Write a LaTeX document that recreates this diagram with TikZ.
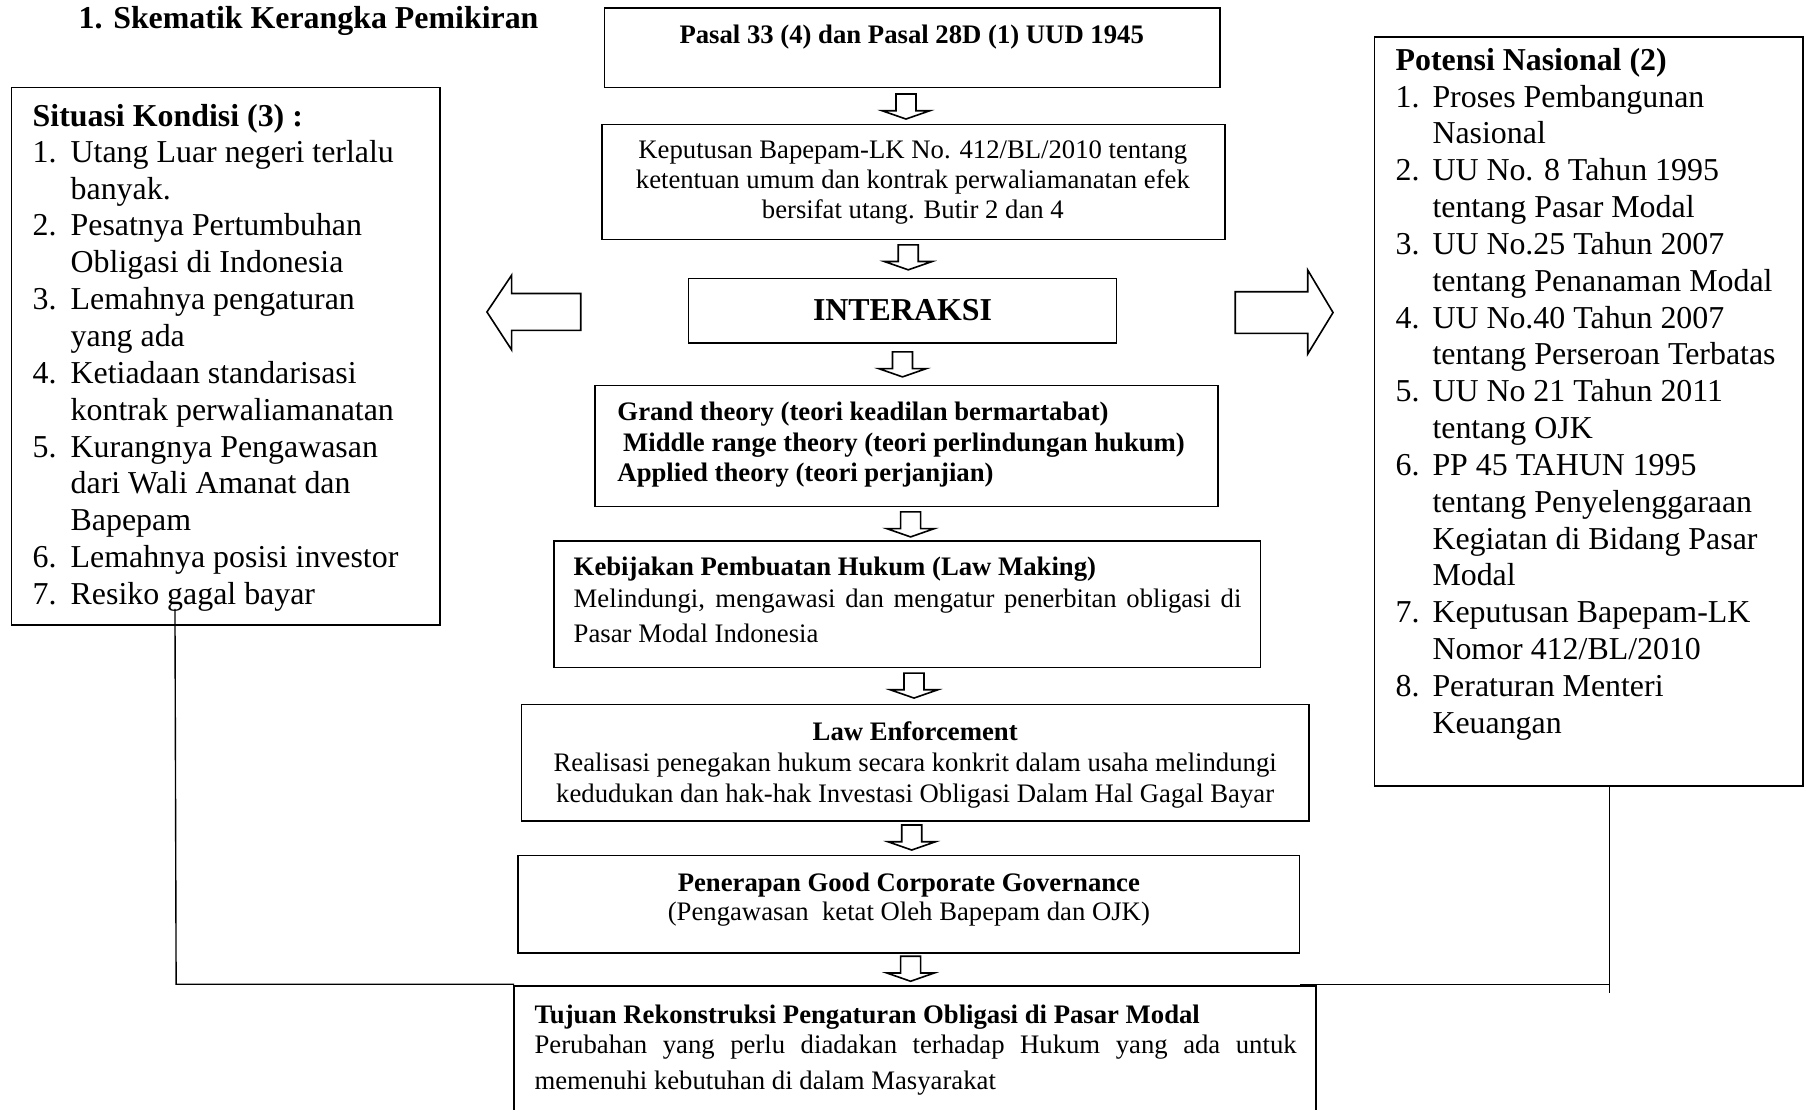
\documentclass[tikz,border=0pt]{standalone}
\usepackage{fontspec}
\setmainfont{Liberation Serif}
\usetikzlibrary{fit,calc}
\begin{document}
\begin{tikzpicture}[x=0.5pt,y=-0.5pt,
  box/.style={draw, line width=0.7pt, inner sep=0pt},
  big/.style={font=\fontsize{13.85}{16}\selectfont, inner sep=0pt},
  bigb/.style={font=\fontsize{13.85}{16}\selectfont\bfseries, inner sep=0pt},
  sm/.style={font=\fontsize{11.6}{13}\selectfont, inner sep=0pt},
  smb/.style={font=\fontsize{11.6}{13}\selectfont\bfseries, inner sep=0pt},
  hollow/.style={draw, line width=0.7pt, fill=white, line join=miter},
  link/.style={draw, line width=0.6pt},
  downarr/.pic={\draw[hollow] (-8.7,0) -- (8.7,0) -- (8.7,14.5) -- (20.7,14.5) -- (0,21.7) -- (-20.7,14.5) -- (-8.7,14.5) -- cycle;}]
\useasboundingbox (0,0) rectangle (1568,964);

% title
\node[bigb, anchor=base west] (tnum) at (68,25) {1.};
\node[bigb, anchor=base west] (ttl) at (98,25) {Skematik Kerangka Pemikiran};

% central boxes
\node[box, fit={(525,7) (1060,76)}] (b1) {};
\node[box, fit={(523,108) (1064,208)}] (b2) {};
\node[box, fit={(598,242) (970,298)}] (b3) {};
\node[box, fit={(517,335) (1058,440)}] (b4) {};
\node[box, fit={(481,470) (1095,580)}] (b5) {};
\node[box, fit={(453,612) (1137,713)}] (b6) {};
\node[box, fit={(450,743) (1129,828)}] (b7) {};
\node[inner sep=0pt, fit={(447,857) (1143,964)}] (b8) {};
\draw[line width=0.7pt] (b8.south west) -- (b8.north west) -- (b8.north east) -- (b8.south east);

% side boxes
\node[box, fit={(10,76) (382,543)}] (lb) {};
\node[box, fit={(1194,32) (1566,683)}] (rb) {};

% texts in central boxes
\node[smb, anchor=base] (b1t) at (792,38) {Pasal 33 (4) dan Pasal 28D (1) UUD 1945};

\node[sm, anchor=base] (b2t1) at (793,138) {Keputusan Bapepam-LK No. 412/BL/2010 tentang};
\node[sm, anchor=base] (b2t2) at (793,164) {ketentuan umum dan kontrak perwaliamanatan efek};
\node[sm, anchor=base] (b2t3) at (793,190) {bersifat utang. Butir 2 dan 4};

\node[bigb, anchor=base] (b3t) at (784,278) {INTERAKSI};

\node[smb, anchor=base west] (b4t1) at (536,365) {Grand theory (teori keadilan bermartabat)};
\node[smb, anchor=base west] (b4t2) at (541,392) {Middle range theory (teori perlindungan hukum)};
\node[smb, anchor=base west] (b4t3) at (536,418) {Applied theory (teori perjanjian)};

\node[smb, anchor=base west] (b5t1) at (498,500) {Kebijakan Pembuatan Hukum (Law Making)};
\node[sm, anchor=base west] (b5t2) at (498,528) {\makebox[290pt][s]{Melindungi, mengawasi dan mengatur penerbitan obligasi di}};
\node[sm, anchor=base west] (b5t3) at (498,558) {Pasar Modal Indonesia};

\node[smb, anchor=base] (b6t1) at (795,643) {Law Enforcement};
\node[sm, anchor=base] (b6t2) at (795,670) {Realisasi penegakan hukum secara konkrit dalam usaha melindungi};
\node[sm, anchor=base] (b6t3) at (795,697) {kedudukan dan hak-hak Investasi Obligasi Dalam Hal Gagal Bayar};

\node[smb, anchor=base] (b7t1) at (789.5,774) {Penerapan Good Corporate Governance};
\node[sm, anchor=base] (b7t2) at (789.5,800) {(Pengawasan\ \ ketat Oleh Bapepam dan OJK)};

\node[smb, anchor=base west] (b8t1) at (464,889) {Tujuan Rekonstruksi Pengaturan Obligasi di Pasar Modal};
\node[sm, anchor=base west] (b8t2) at (464,915) {\makebox[331pt][s]{Perubahan yang perlu diadakan terhadap Hukum yang ada untuk}};
\node[sm, anchor=base west] (b8t3) at (464,946) {memenuhi kebutuhan di dalam Masyarakat};

% left list
\node[bigb, anchor=base west] (lh) at (28,110) {Situasi Kondisi (3) :};
\foreach \k/\n/\t in {0/1./Utang Luar negeri terlalu, 1//banyak., 2/2./Pesatnya Pertumbuhan, 3//Obligasi di Indonesia,
  4/3./Lemahnya pengaturan, 5//yang ada, 6/4./Ketiadaan standarisasi, 7//kontrak perwaliamanatan,
  8/5./Kurangnya Pengawasan, 9//dari Wali Amanat dan, 10//Bapepam, 11/6./Lemahnya posisi investor, 12/7./Resiko gagal bayar}{
  \node[big, anchor=base west] (ln\k) at (28,141+32*\k) {\n};
  \node[big, anchor=base west] (lt\k) at (61,141+32*\k) {\t};
}

% right list
\node[bigb, anchor=base west] (rh) at (1212,61) {Potensi Nasional (2)};
\foreach \k/\n/\t in {0/1./Proses Pembangunan, 1//Nasional, 2/2./UU No. 8 Tahun 1995, 3//tentang Pasar Modal,
  4/3./UU No.25 Tahun 2007, 5//tentang Penanaman Modal, 6/4./UU No.40 Tahun 2007, 7//tentang Perseroan Terbatas,
  8/5./UU No 21 Tahun 2011, 9//tentang OJK, 10/6./PP 45 TAHUN 1995, 11//tentang Penyelenggaraan,
  12//Kegiatan di Bidang Pasar, 13//Modal, 14/7./Keputusan Bapepam-LK, 15//{Nomor 412/BL/2010},
  16/8./Peraturan Menteri, 17//Keuangan}{
  \node[big, anchor=base west] (rn\k) at (1212,93+32*\k) {\n};
  \node[big, anchor=base west] (rt\k) at (1244,93+32*\k) {\t};
}

% down arrows between central boxes
\pic at ($(b1.south)+(-5.5,5)$) {downarr};
\pic at ($(b2.south)+(-4.5,4)$) {downarr};
\pic at ($(b3.south)+(0,7)$) {downarr};
\pic at ($(b4.south)+(3.5,4)$) {downarr};
\pic at ($(b5.south)+(6,4)$) {downarr};
\pic at ($(b6.south)+(-3,3)$) {downarr};
\pic at ($(b7.south)+(1.5,2)$) {downarr};

% side block arrows
\draw[hollow] (423,271) -- (444.5,239) -- (444.5,255) -- (504.5,255) -- (504.5,287) -- (444.5,287) -- (444.5,304) -- cycle;
\draw[hollow] (1158,271.5) -- (1136,234.6) -- (1136,253.4) -- (1073,253.4) -- (1073,289.6) -- (1136,289.6) -- (1136,307.5) -- cycle;

% connector lines
\coordinate (lstart) at (152,529);
\coordinate (lcorner) at (153,855);
\draw[link] (lstart) -- (lcorner) -- (lcorner -| b8.west);
\coordinate (rtop) at ($(rb.south)+(18,0)$);
\coordinate (rcorner) at (1398,855);
\coordinate (rbot) at (1398,863);
\draw[link] (rtop) -- (rbot);
\draw[link] (rcorner -| b7.east) -- (rcorner);
\end{tikzpicture}
\end{document}
